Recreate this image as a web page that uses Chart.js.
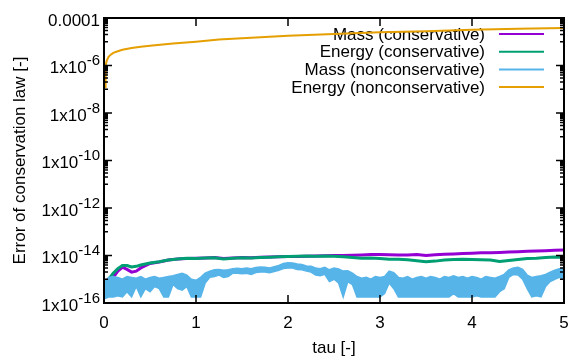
<!DOCTYPE html>
<html lang="en">
<head>
<meta charset="UTF-8">
<title>Error of conservation law</title>
<script src="https://cdn.jsdelivr.net/npm/chart.js"></script>
<style>
  html, body { margin: 0; padding: 0; background: #fff; }
  #wrap { width: 571px; height: 359px; }
</style>
</head>
<body>
<div id="wrap"><canvas id="chart"></canvas></div>
<script>
var FONT = '"Liberation Sans", Arial, Helvetica, sans-serif';

// series labels (legend order)
var seriesLabels = ['Mass (conservative)', 'Energy (conservative)', 'Mass (nonconservative)', 'Energy (nonconservative)'];
var seriesColors = ['#9400d3', '#009e73', '#56b4e9', '#e69f00'];

// y axis tick labels (log scale, every two decades)
var yMajor = [1e-4, 1e-6, 1e-8, 1e-10, 1e-12, 1e-14, 1e-16];
var yTickLabels = ['0.0001', '1x10^-6', '1x10^-8', '1x10^-10', '1x10^-12', '1x10^-14', '1x10^-16'];
var xTicks = [0, 1, 2, 3, 4, 5];

// conservative scheme
var tauCons = [0, 0.02, 0.05, 0.1, 0.15, 0.2, 0.25, 0.3, 0.35, 0.4, 0.5, 0.6, 0.7, 0.8, 0.9,
  1.0, 1.1, 1.2, 1.3, 1.4, 1.5, 1.6, 1.7, 1.8, 1.9, 2.0, 2.1, 2.2, 2.3, 2.4, 2.5, 2.6, 2.7, 2.8, 2.9,
  3.0, 3.1, 3.2, 3.3, 3.4, 3.5, 3.6, 3.7, 3.8, 3.9, 4.0, 4.1, 4.2, 4.3, 4.4, 4.5, 4.6, 4.7, 4.8, 4.9, 5.0];
var massCons = [8e-16, 7e-16, 8e-16, 1.2e-15, 2.2e-15, 3.2e-15, 2.6e-15, 2.0e-15, 2.2e-15, 3.0e-15, 4.6e-15, 5.3e-15, 6.4e-15, 7.2e-15, 7.4e-15,
  7.6e-15, 7.9e-15, 8.2e-15, 7.4e-15, 7.8e-15, 8.2e-15, 8.0e-15, 8.4e-15, 8.6e-15, 8.9e-15, 9.0e-15, 9.0e-15, 9.4e-15, 9.6e-15, 9.8e-15, 1.0e-14, 1.0e-14, 1.02e-14, 1.05e-14, 1.1e-14,
  1.1e-14, 1.08e-14, 1.05e-14, 1.05e-14, 1.1e-14, 1.0e-14, 1.08e-14, 1.12e-14, 1.15e-14, 1.2e-14, 1.25e-14, 1.3e-14, 1.32e-14, 1.35e-14, 1.4e-14, 1.45e-14, 1.5e-14, 1.55e-14, 1.6e-14, 1.65e-14, 1.7e-14];
var energyCons = [1.6e-16, 6e-16, 1.0e-15, 1.8e-15, 2.8e-15, 3.8e-15, 3.8e-15, 3.3e-15, 3.5e-15, 4.0e-15, 4.8e-15, 5.5e-15, 6.5e-15, 7.2e-15, 7.6e-15,
  7.5e-15, 7.8e-15, 8.0e-15, 7.2e-15, 7.6e-15, 8.0e-15, 7.8e-15, 8.2e-15, 8.5e-15, 8.8e-15, 9.0e-15, 9.2e-15, 9.5e-15, 9.3e-15, 9.5e-15, 9.3e-15, 8.8e-15, 8.2e-15, 7.6e-15, 7.8e-15,
  7.4e-15, 7.0e-15, 6.9e-15, 6.6e-15, 6.0e-15, 5.4e-15, 5.8e-15, 6.4e-15, 6.8e-15, 6.9e-15, 6.8e-15, 6.6e-15, 6.4e-15, 5.6e-15, 6.2e-15, 6.8e-15, 7.4e-15, 7.6e-15, 8.2e-15, 8.6e-15, 8.2e-15];

// nonconservative mass: noisy band, upper and lower edge
var tauMass = [0, 0.05, 0.1, 0.15, 0.2, 0.25, 0.3, 0.35, 0.4, 0.45, 0.5, 0.55, 0.6, 0.65, 0.7, 0.75, 0.8, 0.85, 0.9, 0.95,
  1.0, 1.05, 1.1, 1.15, 1.2, 1.25, 1.3, 1.35, 1.4, 1.45, 1.5, 1.55, 1.6, 1.65, 1.7, 1.75, 1.8, 1.85, 1.9, 1.95,
  2.0, 2.05, 2.1, 2.15, 2.2, 2.25, 2.3, 2.35, 2.4, 2.45, 2.5, 2.55, 2.6, 2.65, 2.7, 2.75, 2.8, 2.85, 2.9, 2.95,
  3.0, 3.05, 3.1, 3.15, 3.2, 3.25, 3.3, 3.35, 3.4, 3.45, 3.5, 3.55, 3.6, 3.65, 3.7, 3.75, 3.8, 3.85, 3.9, 3.95,
  4.0, 4.05, 4.1, 4.15, 4.2, 4.25, 4.3, 4.35, 4.4, 4.45, 4.5, 4.55, 4.6, 4.65, 4.7, 4.75, 4.8, 4.85, 4.9, 4.95, 5.0];
var massNonHigh = [7e-16, 1.2e-15, 1.3e-15, 1.2e-15, 1.0e-15, 1.3e-15, 1.2e-15, 1.1e-15, 1.3e-15, 1.0e-15,
  1.2e-15, 1.3e-15, 1.1e-15, 1.2e-15, 1.3e-15, 1.4e-15, 1.6e-15, 1.8e-15, 1.5e-15, 1.0e-15,
  9e-16, 1.2e-15, 1.8e-15, 2.2e-15, 2.5e-15, 2.6e-15, 2.4e-15, 2.5e-15, 2.8e-15, 2.9e-15,
  2.8e-15, 3.0e-15, 2.8e-15, 3.1e-15, 3.3e-15, 3.2e-15, 3.0e-15, 3.4e-15, 3.8e-15, 4.6e-15,
  5.0e-15, 4.8e-15, 4.4e-15, 4.2e-15, 3.6e-15, 3.5e-15, 3.0e-15, 2.8e-15, 3.2e-15, 2.5e-15,
  3.0e-15, 2.7e-15, 2.2e-15, 2.3e-15, 1.8e-15, 1.3e-15, 1.1e-15, 1.2e-15, 1.0e-15, 1.3e-15,
  1.2e-15, 1.3e-15, 2.2e-15, 1.9e-15, 1.2e-15, 1.1e-15, 1.3e-15, 1.0e-15, 1.2e-15, 1.3e-15,
  1.1e-15, 1.3e-15, 1.2e-15, 1.0e-15, 1.3e-15, 1.2e-15, 1.4e-15, 1.2e-15, 1.3e-15, 1.1e-15,
  1.3e-15, 1.2e-15, 1.0e-15, 1.3e-15, 1.2e-15, 1.1e-15, 1.3e-15, 1.6e-15, 2.5e-15, 3.0e-15,
  3.2e-15, 2.6e-15, 1.5e-15, 1.2e-15, 1.3e-15, 1.4e-15, 1.6e-15, 2.0e-15, 2.4e-15, 2.8e-15, 2.9e-15];
var massNonLow = [1.5e-16, 1.8e-16, 1.8e-16, 2e-16, 1.8e-16, 3e-16, 1.8e-16, 5e-16, 1.8e-16, 4e-16,
  3e-16, 5e-16, 4e-16, 1.8e-16, 1.8e-16, 6e-16, 4e-16, 3.5e-16, 5e-16, 1.8e-16,
  1.8e-16, 1.8e-16, 7e-16, 1.2e-15, 1.3e-15, 1.5e-15, 1.2e-15, 1.3e-15, 1.8e-15, 1.8e-15,
  1.7e-15, 1.8e-15, 1.6e-15, 1.9e-15, 2.0e-15, 2.0e-15, 1.9e-15, 2.1e-15, 2.4e-15, 2.8e-15,
  3.0e-15, 3.0e-15, 2.6e-15, 2.5e-15, 2.2e-15, 2.0e-15, 1.5e-15, 1.4e-15, 1.6e-15, 8e-16,
  1.0e-15, 7e-16, 1.8e-16, 8e-16, 6e-16, 1.8e-16, 1.8e-16, 1.8e-16, 1.8e-16, 1.8e-16,
  1.8e-16, 2.5e-16, 7e-16, 4e-16, 1.8e-16, 1.8e-16, 1.8e-16, 1.8e-16, 1.8e-16, 1.8e-16,
  1.8e-16, 1.8e-16, 1.8e-16, 1.8e-16, 1.8e-16, 1.8e-16, 2.5e-16, 1.8e-16, 1.8e-16, 1.8e-16,
  1.8e-16, 2e-16, 1.8e-16, 1.8e-16, 1.8e-16, 1.8e-16, 3e-16, 4e-16, 1.2e-15, 1.6e-15,
  1.5e-15, 1.0e-15, 4e-16, 1.8e-16, 2e-16, 1.8e-16, 5e-16, 8e-16, 1.0e-15, 1.2e-15, 1.0e-15];

// nonconservative energy
var tauEnergy = [0.012, 0.014, 0.017, 0.02, 0.03, 0.05, 0.07, 0.1, 0.15, 0.2, 0.3, 0.4, 0.5, 0.75, 1.0, 1.25, 1.5, 1.75, 2.0, 2.5, 3.0, 3.5, 4.0, 4.5, 5.0];
var energyNon = [1.2e-7, 3e-7, 6e-7, 1.0e-6, 1.6e-6, 2.3e-6, 2.8e-6, 3.4e-6, 4.0e-6, 4.6e-6, 5.4e-6, 6.1e-6, 6.8e-6, 8.4e-6, 1.0e-5, 1.25e-5, 1.4e-5, 1.6e-5, 1.8e-5, 2.1e-5, 2.5e-5, 2.8e-5, 3.2e-5, 3.5e-5, 3.8e-5];

function pts(xs, ys) {
  return xs.map(function (x, i) { return { x: x, y: ys[i] }; });
}

// gnuplot style frame: border, inward ticks, y labels with superscripts, key
var gnuplotFrame = {
  id: 'gnuplotFrame',
  beforeDatasetsDraw: function (chart) {
    var ctx = chart.ctx, a = chart.chartArea;
    ctx.save();
    ctx.font = '17px ' + FONT;
    ctx.fillStyle = '#000';
    ctx.textAlign = 'right';
    ctx.textBaseline = 'middle';
    var textRight = a.right - 79;
    for (var i = 0; i < seriesLabels.length; i++) {
      var y = a.top + 16 + i * 17.7;
      ctx.fillText(seriesLabels[i], textRight, y + 1);
      ctx.strokeStyle = seriesColors[i];
      ctx.lineWidth = 2;
      ctx.beginPath();
      ctx.moveTo(a.right - 65, y);
      ctx.lineTo(a.right - 20, y);
      ctx.stroke();
    }
    ctx.restore();
  },
  afterDatasetsDraw: function (chart) {
    var ctx = chart.ctx, a = chart.chartArea;
    var xs = chart.scales.x, ys = chart.scales.y;
    ctx.save();
    ctx.strokeStyle = '#000';
    ctx.lineWidth = 1.5;
    ctx.beginPath();
    // y major + minor ticks, both sides
    yMajor.forEach(function (v) {
      var p = ys.getPixelForValue(v);
      ctx.moveTo(a.left, p); ctx.lineTo(a.left + 8, p);
      ctx.moveTo(a.right, p); ctx.lineTo(a.right - 8, p);
      for (var n = 1; n <= 9; n++) {
        if (v * 10 * n > 1e-4 * 1.0001) continue;
        var m = ys.getPixelForValue(v * 10 * n);
        ctx.moveTo(a.left, m); ctx.lineTo(a.left + 4, m);
        ctx.moveTo(a.right, m); ctx.lineTo(a.right - 4, m);
      }
    });
    xTicks.forEach(function (v) {
      var p = xs.getPixelForValue(v);
      ctx.moveTo(p, a.bottom); ctx.lineTo(p, a.bottom - 8);
      ctx.moveTo(p, a.top); ctx.lineTo(p, a.top + 8);
    });
    ctx.stroke();
    ctx.lineWidth = 2;
    ctx.strokeRect(a.left, a.top, a.right - a.left, a.bottom - a.top);

    // y tick labels
    ctx.fillStyle = '#000';
    ctx.textAlign = 'right';
    ctx.textBaseline = 'alphabetic';
    yTickLabels.forEach(function (lab, i) {
      var p = ys.getPixelForValue(yMajor[i]);
      var parts = lab.split('^');
      var right = a.left - 4;
      if (parts.length > 1) {
        ctx.font = '15px ' + FONT;
        ctx.fillText(parts[1], right, p - 0.5);
        right -= ctx.measureText(parts[1]).width;
      }
      ctx.font = '17px ' + FONT;
      ctx.fillText(parts[0], right, p + 7.5);
    });

    // y axis title
    ctx.translate(20, (a.top + a.bottom) / 2);
    ctx.rotate(-Math.PI / 2);
    ctx.textAlign = 'center';
    ctx.textBaseline = 'middle';
    ctx.font = '17px ' + FONT;
    ctx.fillText('Error of conservation law [-]', 0, 0);
    ctx.restore();
  }
};

var ctx = document.getElementById('chart').getContext('2d');
var chart = new Chart(ctx, {
  type: 'line',
  data: {
    datasets: [
      { label: seriesLabels[0], data: pts(tauCons, massCons), borderColor: seriesColors[0], borderWidth: 3, order: 3 },
      { label: seriesLabels[1], data: pts(tauCons, energyCons), borderColor: seriesColors[1], borderWidth: 3, order: 2 },
      { label: 'low', data: pts(tauMass, massNonLow), borderColor: seriesColors[2], borderWidth: 1.5, order: 1 },
      { label: seriesLabels[2], data: pts(tauMass, massNonHigh), borderColor: seriesColors[2], borderWidth: 1.5,
        backgroundColor: seriesColors[2], fill: '-1', order: 1 },
      { label: seriesLabels[3], data: pts(tauEnergy, energyNon), borderColor: seriesColors[3], borderWidth: 2, order: 0 }
    ]
  },
  options: {
    responsive: true,
    maintainAspectRatio: false,
    animation: false,
    devicePixelRatio: 1,
    layout: { padding: { left: 0, right: 7, top: 18, bottom: 0 } },
    elements: { point: { radius: 0 }, line: { tension: 0 } },
    plugins: { legend: { display: false }, tooltip: { enabled: false } },
    scales: {
      x: {
        type: 'linear', min: 0, max: 5,
        ticks: { stepSize: 1, color: '#000', padding: 10, font: { family: FONT, size: 17 } },
        grid: { display: false, drawTicks: false },
        border: { display: false },
        title: { display: true, text: 'tau [-]', color: '#000', padding: 0, font: { family: FONT, size: 17 } },
        afterFit: function (s) { s.height = 56; s.paddingLeft = 0; s.paddingRight = 0; }
      },
      y: {
        type: 'logarithmic', min: 1e-16, max: 1e-4,
        ticks: { display: false },
        grid: { display: false },
        border: { display: false },
        afterFit: function (s) { s.width = 104; s.paddingTop = 0; s.paddingBottom = 0; }
      }
    }
  },
  plugins: [gnuplotFrame]
});
</script>
</body>
</html>
